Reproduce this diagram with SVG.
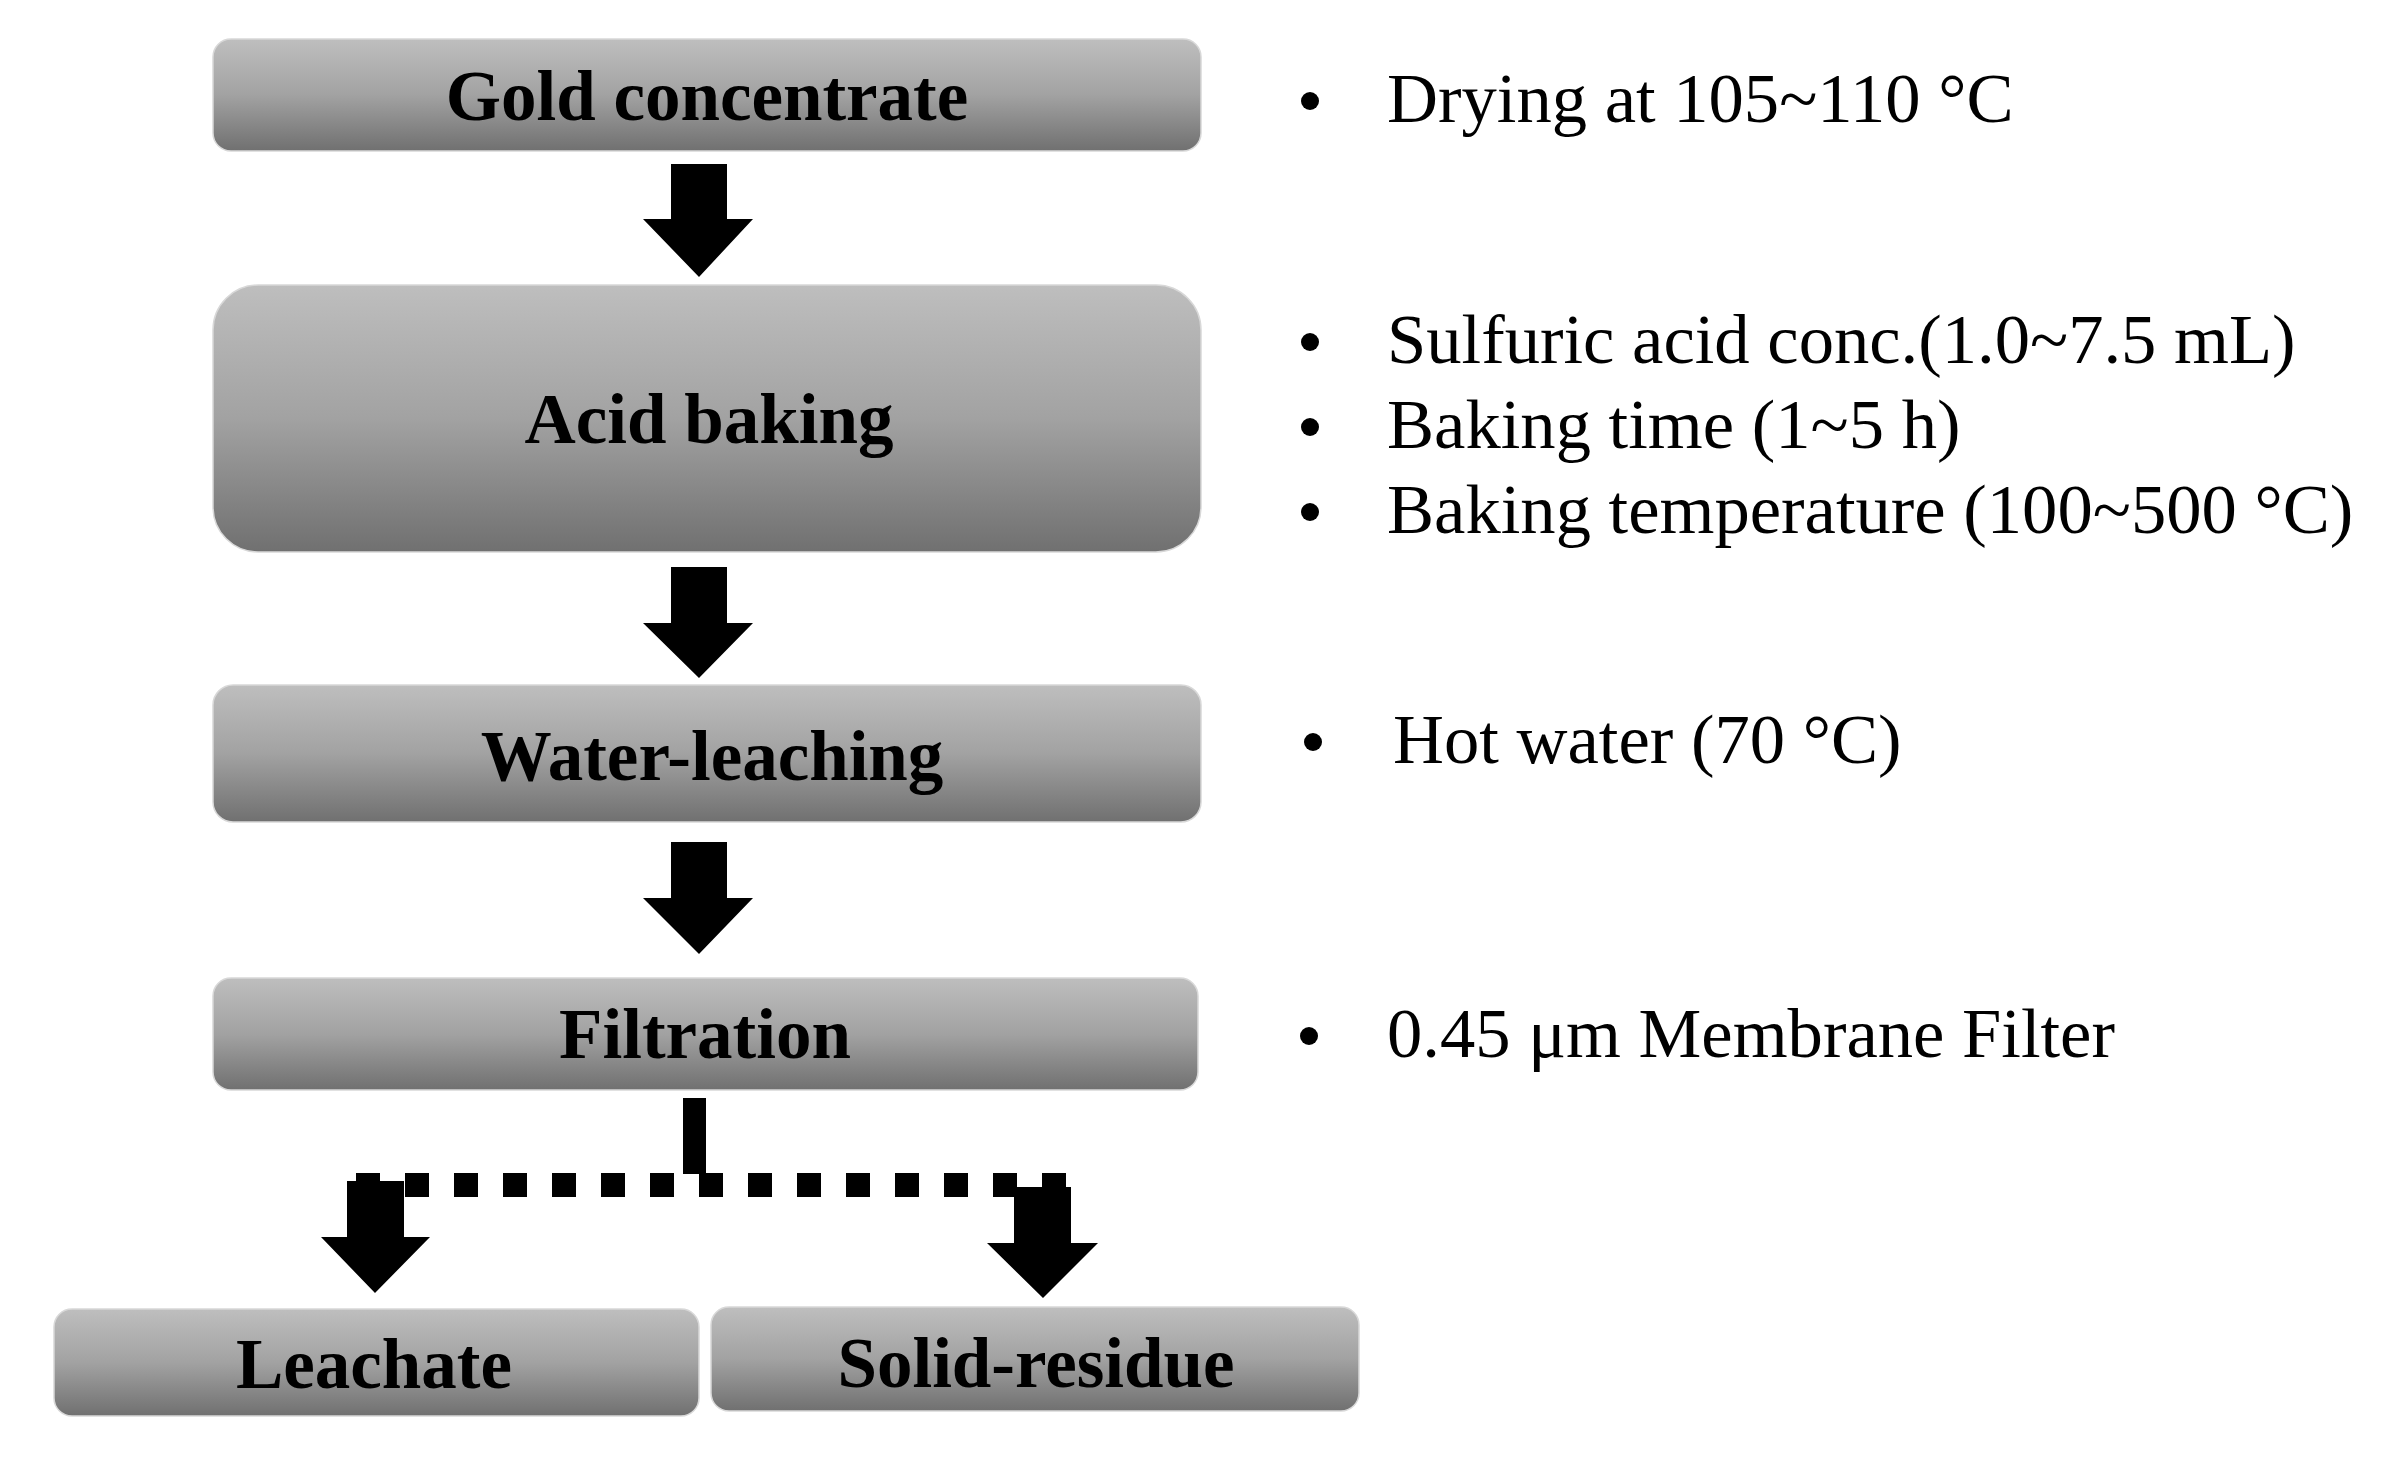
<svg xmlns="http://www.w3.org/2000/svg" width="2398" height="1457" viewBox="0 0 2398 1457">
<defs>
<linearGradient id="g" x1="0" y1="0" x2="0" y2="1">
<stop offset="0" stop-color="#bebebe"/>
<stop offset="0.5" stop-color="#a2a2a2"/>
<stop offset="1" stop-color="#707070"/>
</linearGradient>
</defs>
<style>
.box{fill:url(#g);stroke:#d8d8d8;stroke-width:1.5}
.lbl{font-family:"Liberation Serif","Times New Roman",serif;font-weight:bold;font-size:71px;fill:#000;text-anchor:middle}
.note{font-family:"Liberation Serif","Times New Roman",serif;font-size:70.6px;fill:#000}
.arr{fill:#000}
</style>
<rect width="2398" height="1457" fill="#fff"/>
<g id="connectors">
<polygon class="arr" points="671,164 727,164 727,219 753,219 699,277 643,219 671,219"/>
<polygon class="arr" points="671,567 727,567 727,623 753,623 699,678 643,623 671,623"/>
<polygon class="arr" points="671,842 727,842 727,898 753,898 699,954 643,898 671,898"/>
<rect class="arr" x="683" y="1098" width="23" height="76"/>
<line x1="356" y1="1185" x2="1066" y2="1185" stroke="#000" stroke-width="24" stroke-dasharray="24 25"/>
<polygon class="arr" points="347,1181 404,1181 404,1237 430,1237 375,1293 321,1237 347,1237"/>
<polygon class="arr" points="1014,1187 1071,1187 1071,1243 1098,1243 1043,1298 987,1243 1014,1243"/>
</g>
<g id="gold">
<rect class="box" x="213" y="39" width="988" height="112" rx="18"/>
<text class="lbl" x="707" y="120">Gold concentrate</text>
</g>
<g id="acid">
<rect class="box" x="213" y="285" width="988" height="267" rx="45"/>
<text class="lbl" x="709" y="443">Acid baking</text>
</g>
<g id="water">
<rect class="box" x="213" y="685" width="988" height="137" rx="20"/>
<text class="lbl" x="712" y="780">Water-leaching</text>
</g>
<g id="filtration">
<rect class="box" x="213" y="978" width="985" height="112" rx="18"/>
<text class="lbl" x="705" y="1058">Filtration</text>
</g>
<g id="leachate">
<rect class="box" x="54" y="1309" width="645" height="107" rx="18"/>
<text class="lbl" x="374" y="1388">Leachate</text>
</g>
<g id="solid">
<rect class="box" x="711" y="1307" width="648" height="104" rx="18"/>
<text class="lbl" x="1036" y="1387">Solid-residue</text>
</g>
<g id="notes">
<circle cx="1310" cy="101" r="9"/>
<text class="note" x="1387" y="122">Drying at 105~110 °C</text>
<circle cx="1310" cy="342" r="9"/>
<text class="note" x="1387" y="363">Sulfuric acid conc.(1.0~7.5 mL)</text>
<circle cx="1310" cy="427" r="9"/>
<text class="note" x="1387" y="448">Baking time (1~5 h)</text>
<circle cx="1310" cy="512" r="9"/>
<text class="note" x="1387" y="533">Baking temperature (100~500 °C)</text>
<circle cx="1313" cy="742" r="9"/>
<text class="note" x="1393" y="763">Hot water (70 °C)</text>
<circle cx="1309" cy="1036" r="9"/>
<text class="note" x="1387" y="1057">0.45 μm Membrane Filter</text>
</g>
</svg>
